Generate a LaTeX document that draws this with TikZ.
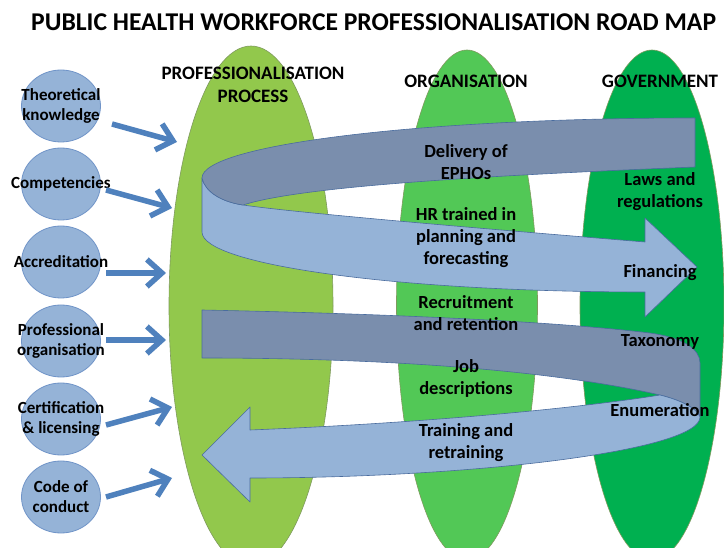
\documentclass[tikz,border=0pt]{standalone}
\usepackage{fontspec}
\setmainfont{Carlito}
\usetikzlibrary{arrows.meta,shapes.geometric}

\definecolor{procgreen}{HTML}{92C84C}
\definecolor{orggreen}{HTML}{52C856}
\definecolor{govgreen}{HTML}{00B050}
\definecolor{pillarline}{HTML}{7F9A5E}
\definecolor{bubblefill}{HTML}{95B3D7}
\definecolor{bubbleline}{HTML}{7094C8}
\definecolor{feedblue}{HTML}{4F81BD}
\definecolor{ribbonfront}{HTML}{95B3D7}
\definecolor{ribbonback}{HTML}{7A8EAD}
\definecolor{ribbonline}{HTML}{4A6C9E}

\begin{document}
\begin{tikzpicture}[x=1pt,y=-1pt,
  pillar/.style={ellipse,draw=pillarline,line width=0.6pt,inner sep=0pt},
  bubble/.style={ellipse,fill=bubblefill,draw=bubbleline,line width=0.8pt,
    minimum width=79pt,minimum height=72pt,inner sep=0pt},
  bubbletext/.style={align=center,font=\fontsize{17}{20}\selectfont\bfseries},
  feed/.style={draw=feedblue,line width=5.5pt,
    -{Straight Barb[length=15pt,width=27pt]}},
  front/.style={fill=ribbonfront,draw=ribbonline,line width=0.6pt,line join=round},
  back/.style={fill=ribbonback,draw=ribbonline,line width=0.6pt,line join=round},
  item/.style={align=center,font=\fontsize{18.5}{22}\selectfont\bfseries},
  head/.style={align=center,font=\fontsize{19}{23}\selectfont\bfseries}
]
\clip (0,0) rectangle (724,548);
\fill[white] (0,0) rectangle (724,548);

% three pillars
\node[pillar,fill=procgreen,minimum width=164pt,minimum height=520pt] (proc) at (251,306) {};
\node[pillar,fill=orggreen,minimum width=141pt,minimum height=510pt] (org) at (467,305) {};
\node[pillar,fill=govgreen,minimum width=144pt,minimum height=510pt] (gov) at (652,305) {};

% title
\node[anchor=west,inner sep=0pt,font=\fontsize{25.6}{30}\selectfont\bfseries] (title) at (31,22) {PUBLIC HEALTH WORKFORCE PROFESSIONALISATION ROAD MAP};

% column headings
\node[head] (hproc) at (253,85) {PROFESSIONALISATION\\PROCESS};
\node[head] (horg) at (466,81) {ORGANISATION};
\node[head] (hgov) at (660,81) {GOVERNMENT};

% upper loop: front face ending in the right-hand arrowhead
\filldraw[front] (202,178) -- (202,232)
  .. controls (202,265) and (400,292) .. (645,292)
  -- (645,317) -- (697,267) -- (645,218) -- (645,242)
  .. controls (450,226) and (290,212) .. (243,205)
  .. controls (222,202) and (205,192) .. cycle;
% upper loop: back face
\filldraw[back] (695,118) -- (695,167)
  .. controls (420,178) and (290,190) .. (243,205)
  .. controls (222,202) and (205,192) .. (202,178)
  .. controls (202,145) and (420,118) .. cycle;

% lower loop: back face
\filldraw[back] (202,310)
  .. controls (400,314) and (560,322) .. (650,333)
  .. controls (685,338) and (700,350) .. (700,363)
  -- (700,417)
  .. controls (697,408) and (680,400) .. (660,395)
  .. controls (560,372) and (400,358) .. (202,358) -- cycle;
% lower loop: front face ending in the left-hand arrowhead
\filldraw[front] (660,395)
  .. controls (680,400) and (697,408) .. (700,417)
  .. controls (700,451) and (470,478) .. (250,478)
  -- (250,502) -- (202,455) -- (250,407) -- (250,430)
  .. controls (450,422) and (600,405) .. cycle;

% inputs to the professionalisation process
\node[bubble] (c1) at (61,106) {};
\node[bubble] (c2) at (61,184) {};
\node[bubble] (c3) at (61,262) {};
\node[bubble] (c4) at (61,341) {};
\node[bubble] (c5) at (61,419) {};
\node[bubble] (c6) at (61,497) {};
\node[bubbletext] (t1) at (c1) {Theoretical\\knowledge};
\node[bubbletext] (t2) at (c2) {Competencies};
\node[bubbletext] (t3) at (c3) {Accreditation};
\node[bubbletext] (t4) at (c4) {Professional\\organisation};
\node[bubbletext] (t5) at (c5) {Certification\\\& licensing};
\node[bubbletext] (t6) at (c6) {Code of\\conduct};

\coordinate (s1) at (112,124); \coordinate (e1) at (177,142);
\coordinate (s2) at (106,190); \coordinate (e2) at (172,208);
\coordinate (s3) at (106,273); \coordinate (e3) at (166,273);
\coordinate (s4) at (106,340); \coordinate (e4) at (166,340);
\coordinate (s5) at (106,425); \coordinate (e5) at (172,407);
\coordinate (s6) at (106,497); \coordinate (e6) at (172,478);
\foreach \i in {1,...,6} \draw[feed] (s\i) -- (e\i);

% organisation items
\node[item] (o1) at (466,162) {Delivery of\\EPHOs};
\node[item] (o2) at (466,238) {HR trained in\\planning and\\forecasting};
\node[item] (o3) at (466,313) {Recruitment\\and retention};
\node[item] (o4) at (466,378) {Job\\descriptions};
\node[item] (o5) at (466,443) {Training and\\retraining};

% government items
\node[item] (g1) at (660,192) {Laws and\\regulations};
\node[item] (g2) at (660,273) {Financing};
\node[item] (g3) at (660,342) {Taxonomy};
\node[item] (g4) at (660,410) {Enumeration};
\end{tikzpicture}
\end{document}
